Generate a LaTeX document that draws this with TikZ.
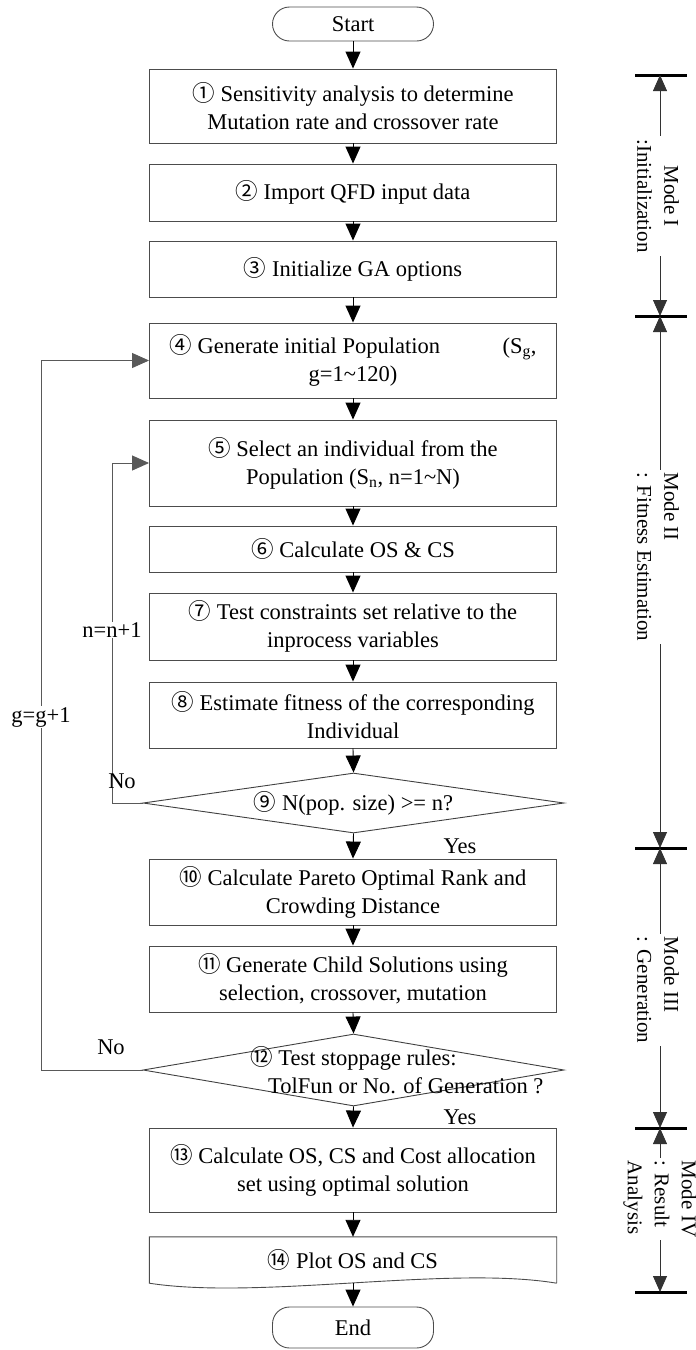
\documentclass[tikz,border=0pt]{standalone}
\usepackage{fontspec}
\setmainfont{Liberation Serif}
\newfontfamily\circfont{Noto Sans CJK KR}
\usetikzlibrary{arrows.meta}
\usetikzlibrary{shapes.geometric}

\newcommand{\cnum}[1]{{\circfont #1}}

\begin{document}
\begin{tikzpicture}[x=1pt,y=-1pt,
  every node/.style = {font=\fontsize{22.5}{28}\selectfont},
  box/.style = {draw=black!70, line width=0.9pt, minimum width=407pt, align=center, inner sep=0pt},
  term/.style = {draw=black!70, line width=0.9pt, rounded corners=17pt, minimum width=161pt, inner sep=0pt},
  dec/.style = {draw=black!75, line width=0.9pt, diamond, minimum width=421pt, inner sep=0pt},
  arr/.style = {-{Triangle[length=17pt,width=15pt]}, line width=0.9pt},
  loopline/.style = {arr, draw=black!65},
  lbl/.style = {inner sep=1pt},
  modelbl/.style = {rotate=-90, fill=white, inner sep=3pt, font=\fontsize{21}{27}\selectfont},
  bar/.style = {line width=3pt},
  span/.style = {{Triangle[length=16pt,width=14pt]}-{Triangle[length=16pt,width=14pt]}, line width=0.8pt, draw=black!80}
  ]
\useasboundingbox (0,0) rectangle (696,1350);

% flow
\node[term, minimum height=34pt] (start) at (353,24) {Start};
\node[box, minimum height=74pt] (s1) at (353,106) {\cnum{①} Sensitivity analysis to determine\\Mutation rate and crossover rate};
\node[box, minimum height=57pt] (s2) at (353,192.5) {\cnum{②} Import QFD input data};
\node[box, minimum height=56pt] (s3) at (353,269) {\cnum{③} Initialize GA options};
\node[box, minimum height=75pt] (s4) at (353,360.5) {\makebox[367pt]{\cnum{④} Generate initial Population\hfill(S\textsubscript{g},}\\g=1\textasciitilde120)};
\node[box, minimum height=86pt] (s5) at (353,463) {\cnum{⑤} Select an individual from the\\Population (S\textsubscript{n}, n=1\textasciitilde N)};
\node[box, minimum height=46pt] (s6) at (353,549) {\cnum{⑥} Calculate OS \& CS};
\node[box, minimum height=67pt] (s7) at (353,626.5) {\cnum{⑦} Test constraints set relative to the\\inprocess variables};
\node[box, minimum height=66pt] (s8) at (353,715) {\cnum{⑧} Estimate fitness of the corresponding\\Individual};
\node[dec, minimum height=60pt] (d9) at (353.5,803) {};
\node (d9t) at (d9) {\cnum{⑨} N(pop. size) >= n?};
\node[box, minimum height=66pt] (s10) at (353,892) {\cnum{⑩} Calculate Pareto Optimal Rank and\\Crowding Distance};
\node[box, minimum height=66pt] (s11) at (353,979) {\cnum{⑪} Generate Child Solutions using\\selection, crossover, mutation};
\node[dec, minimum height=72pt] (d12) at (353.5,1070) {};
\node[align=left, anchor=west, inner sep=0pt] (d12t) at (250,1070) {\cnum{⑫} Test stoppage rules:\\\hspace*{18pt}TolFun or No. of Generation ?};
\node[box, minimum height=84pt] (s13) at (353,1170) {\cnum{⑬} Calculate OS, CS and Cost allocation\\set using optimal solution};
\node[minimum width=407pt, minimum height=46pt, inner sep=0pt] (s14) at (353,1260) {\cnum{⑭} Plot OS and CS};
\draw[draw=black!70, line width=0.9pt] (s14.south east) -- (s14.north east) -- (s14.north west) -- (s14.south west)
  .. controls +(110,17) and +(-107,-18) .. (s14.south east);
\node[term, minimum height=41pt] (end) at (353,1327.5) {End};

\foreach \a/\b in {start/s1,s1/s2,s2/s3,s3/s4,s4/s5,s5/s6,s6/s7,s7/s8,s8/d9,d9/s10,s10/s11,s11/d12,d12/s13,s13/s14,s14/end}
  \draw[arr] (\a.south) -- (\b.north);

% loops
\coordinate (nx) at (112,0);
\coordinate (gx) at (41,0);
\draw[loopline] (d9.west) -- (d9.west -| nx) |- (s5.west);
\draw[loopline] (d12.west) -- (d12.west -| gx) |- (s4.west);
\node[lbl, fill=white] (ninc) at (112,630) {n=n+1};
\node[lbl, fill=white] (ginc) at (41,717) {g=g+1};
\node[lbl] (no9) at (122,781) {No};
\node[lbl] (no12) at (111,1047) {No};
\node[lbl] (yes9) at (460,846) {Yes};
\node[lbl] (yes12) at (460,1117) {Yes};

% modes
\coordinate (m0) at (660,75);
\coordinate (m1) at (660,316);
\coordinate (m2) at (660,848);
\coordinate (m3) at (660,1128);
\coordinate (m4) at (660,1292);
\foreach \m in {m0,m1,m2,m3,m4}
  \draw[bar] ([xshift=-25pt]\m) -- ([xshift=27pt]\m);
\foreach \a/\b in {m0/m1,m1/m2,m2/m3,m3/m4}
  \draw[span] (\a) -- (\b);
\node[modelbl, align=center] (mode1) at (658,196) {Mode I\\:Initialization};
\node[modelbl, align=left] (mode2) at (658,557) {Mode II\\: Fitness Estimation};
\node[modelbl, align=left] (mode3) at (658,990) {Mode III\\: Generation};
\node[modelbl, align=left] (mode4) at (660,1199) {Mode IV\\: Result\\Analysis};

\end{tikzpicture}
\end{document}
